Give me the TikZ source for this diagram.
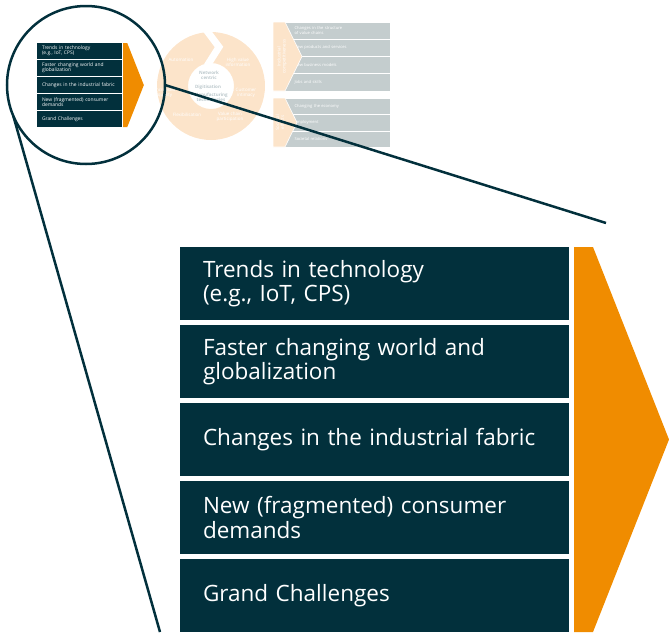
\documentclass[tikz,border=0pt]{standalone}
\usepackage{fontspec}
\setmainfont{Open Sans}[Ligatures={NoCommon}]
\usepackage{tikz}
\tikzset{
  every node/.style = {
    inner sep = 0pt,
    outer sep = 0pt
  }
}
\usetikzlibrary{
positioning
}
\definecolor{petrol}{HTML}{02303C}
\definecolor{signal}{HTML}{F08C00}
\definecolor{peach}{HTML}{FCE4CA}
\definecolor{mist}{HTML}{C4CDCE}
\definecolor{haze}{HTML}{BCC8CC}

\begin{document}
\begin{tikzpicture}[
        x = 1pt,
        y = -1pt,
        driver/.style={
          fill = petrol,
          text = white,
          minimum width = 389,
          minimum height = 73,
          text width = 343,
          inner xsep = 23,
          align = left,
          font = \fontsize{22.5}{24.5}\selectfont,
        },
        faint/.style={
          text = white,
          align = center,
          font = \fontsize{4.5}{5}\selectfont,
        },
        core/.style={
          text = haze,
          align = center,
          font = \bfseries\fontsize{4.5}{5}\selectfont,
        },
        impact/.style={
          fill = mist,
          draw = white,
          line width = 0.6,
          minimum width = 96,
          text width = 77,
          inner xsep = 19,
          align = left,
          text = white,
          font = \fontsize{4.1}{4.6}\selectfont,
        },
        lens line/.style={
          draw = petrol,
          line width = 2.5,
        },
        ]
        \useasboundingbox (0,0) rectangle (669,632);
        \fill [peach, even odd rule] (211,86) circle (54) (211,86) circle (23);
        \draw [white, line width=7] (204,27) -- (219,47) -- (207,66);
        \node (ring-1) [faint] at (181,60) {Automation};
        \node (ring-2) [faint] at (238,62) {High value\\information};
        \node (ring-3) [faint] at (246,93) {Customer\\intimacy};
        \node (ring-4) [faint] at (230,117) {Value chain\\participation};
        \node (ring-5) [faint] at (187,115) {Flexibilisation};
        \node (ring-6) [faint] at (165,93) {Increased\\quality};
        \node (core-1) [core] at (209,75) {Network\\centric};
        \node (core-2) [core] at (208,87) {Digitisation};
        \node (core-3) [core] at (211,98) {Manufacturing\\technologies};
        \foreach \t [count=\i] in {{Changes in the structure\\of value chains}, New products and services, New business models, Jobs and skills}
          \node (industry-\i) [impact, minimum height=17.2] at (333, {30.6+17.2*(\i-1)}) {\t};
        \foreach \t [count=\i] in {Changing the economy, Employment, Societal relations}
          \node (society-\i) [impact, minimum height=16.4] at (333, {106.2+16.4*(\i-1)}) {\t};
        \fill [peach, draw=white, line width=0.6] (273,22) -- (285,22) -- (302,56.5) -- (285,91) -- (273,91) -- cycle;
        \fill [peach, draw=white, line width=0.6] (273,98) -- (285,98) -- (297,122.5) -- (285,147) -- (273,147) -- cycle;
        \node (industry) [faint, rotate=90] at (282,56.5) {Industrial\\competitiveness};
        \node (society) [faint, rotate=90] at (280,122.5) {Societal\\effects};
        \foreach \dx/\dy/\s/\n in {37/43/0.2185/small, 180/247/1/big} {
          \begin{scope}[shift={(\dx,\dy)}, scale=\s, transform shape]
            \foreach \t [count=\i] in {{Trends in technology\\(e.g., IoT, CPS)}, {Faster changing world and\\globalization}, Changes in the industrial fabric, {New (fragmented) consumer\\demands}, Grand Challenges}
              \node (\n-\i) [driver] at (194.5, {36.5+78*(\i-1)}) {\t};
            \fill [signal] (394,0) -- (413,0) -- (489,192.5) -- (413,385) -- (394,385) -- cycle;
          \end{scope}
        }
        \node (lens) [circle, lens line, minimum size=158] at (86,85) {};
        \coordinate (zoom-a) at (160,632);
        \coordinate (zoom-b) at (606,223);
        \draw [lens line] (lens.203) -- (zoom-a);
        \draw [lens line] (lens.east) -- (zoom-b);
      \end{tikzpicture}
\end{document}
